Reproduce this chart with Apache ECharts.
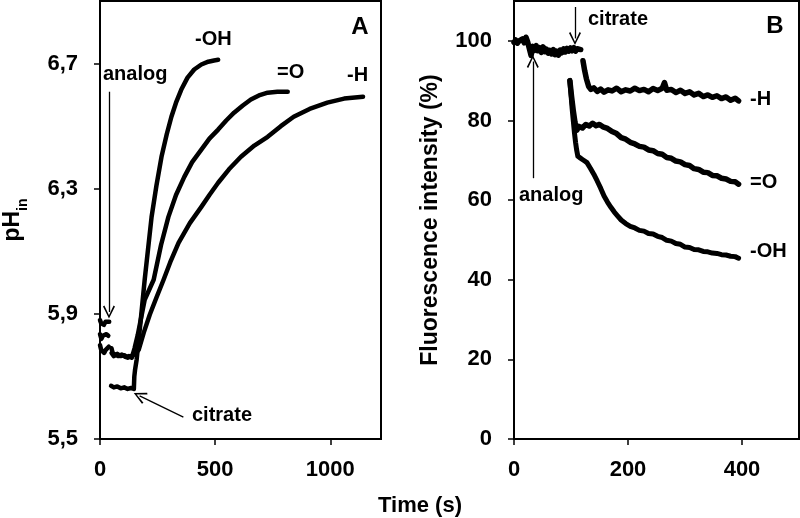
<!DOCTYPE html>
<html><head><meta charset="utf-8">
<script src="https://cdn.jsdelivr.net/npm/echarts@6/dist/echarts.min.js"></script>
<style>html,body{margin:0;padding:0;background:#fff}#c{width:800px;height:518px}</style>
</head><body><div id="c"></div>
<script>
// ---------- Panel A: pH_in vs time (s) ----------
const ticksAx = [0, 500, 1000];
const ticksAy = [5.5, 5.9, 6.3, 6.7];
const aOH = [[0,5.80],[5,5.785],[10,5.79],[18,5.775],[25,5.785],[32,5.79],[38,5.795],[44,'-'],
  [48,5.67],[52,5.675],[60,5.665],[75,5.668],[90,5.662],[105,5.665],[120,5.66],[135,5.663],[147,5.66],
  [149,5.70],[152,5.72],[159,5.753],[177,5.881],[194,6.009],[224,6.21],[245,6.31],[267,6.402],[290,6.475],
  [310,6.53],[330,6.575],[353,6.617],[380,6.655],[409,6.681],[440,6.697],[470,6.706],[495,6.71],[513,6.712]];
const aO = [[0,5.835],[6,5.82],[12,5.83],[20,5.825],[28,5.835],[36,5.83],[42,'-'],
  [50,5.79],[55,5.775],[65,5.77],[80,5.765],[95,5.77],[110,5.762],[125,5.765],[138,5.76],
  [150,5.79],[164,5.833],[194,5.945],[233,6.009],[265,6.12],[297,6.21],[330,6.28],[366,6.338],[400,6.385],
  [440,6.425],[475,6.46],[513,6.489],[548,6.518],[582,6.543],[620,6.566],[655,6.585],[690,6.598],[728,6.607],[770,6.61],[815,6.61]];
const aH = [[0,5.88],[5,5.87],[10,5.875],[17,5.865],[24,5.875],[32,5.87],[40,5.875],[44,'-'],
  [50,5.775],[60,5.765],[75,5.772],[90,5.765],[105,5.768],[120,5.76],[135,5.765],[150,5.77],
  [168,5.785],[190,5.84],[216,5.897],[246,5.954],[276,6.009],[305,6.065],[341,6.127],[390,6.19],[440,6.242],
  [475,6.28],[513,6.319],[560,6.362],[612,6.402],[670,6.438],[728,6.466],[785,6.5],[841,6.53],
  [910,6.555],[987,6.575],[1060,6.588],[1142,6.594]];

// ---------- Panel B: fluorescence (%) vs time (s) ----------
const ticksBx = [0, 200, 400];
const ticksBy = [0, 20, 40, 60, 80, 100];
const bBase = [[0,99.6],[3,100.2],[6,99.4],[9,100.0],[12,99.6],[15,100.5],[18,99.5],[21,100.9],[24,99.7],[27,100.1],
  [30,96.3],[33,98.6],[36,97.6],[39,98.8],[42,97.5],[45,98.3],[48,97.1],[51,98.5],[54,97.3],[57,97.9],
  [60,96.9],[63,97.6],[66,96.7],[69,97.8],[72,96.5],[75,97.4],[78,96.4],[81,97.7],[84,97.0],[87,98.0],
  [90,97.2],[93,98.1],[96,97.4],[99,98.2],[102,97.5],[105,98.3],[108,97.4],[111,98.0],[114,97.6],[117,97.8]];
const bH = [[121,95],[124,92.5],[127,90.5],[131,88.5],[135,87.8],[140,88.2],[146,87.3],[152,87.9],[158,87.1],
  [165,87.7],[172,87.4],[180,88.1],[188,87.2],[196,87.7],[204,87.4],[212,88.1],[220,87.5],[228,87.8],
  [236,87.2],[244,88.0],[252,87.5],[260,88.1],[264,89.5],[268,87.6],[276,87.8],[284,87.0],[292,87.6],
  [300,86.8],[308,87.2],[316,86.4],[324,86.8],[332,86.0],[340,86.4],[348,85.8],[356,86.2],[364,85.5],
  [372,85.9],[380,85.1],[388,85.6],[394,84.9]];
const bO = [[98,90],[101,86],[104,82.5],[107,79.5],[110,77.5],[114,78.5],[120,78.1],[126,79.0],[132,78.6],
  [138,79.3],[144,78.7],[150,79.0],[156,78.4],[164,78.0],[172,77.2],[180,76.7],[188,75.7],[196,75.3],
  [204,74.5],[212,74.1],[220,73.5],[228,73.3],[236,72.6],[244,72.4],[252,71.7],[260,71.5],[268,70.7],
  [276,70.5],[284,69.8],[292,69.6],[300,68.9],[308,68.7],[316,67.9],[324,67.7],[332,67.0],[340,66.9],
  [348,66.2],[356,66.1],[364,65.5],[372,65.3],[380,64.7],[388,64.6],[394,64.0]];
const bOH = [[98,90],[100,86.5],[102,83],[104,80],[106,77],[108,74.5],[110,72.5],[112,71],[116,70.6],
  [120,70.2],[124,69.8],[128,69.4],[134,68],[140,66.5],[146,64.8],[152,63],[158,61],[164,59.5],[170,58.2],
  [176,57],[182,56],[188,55],[196,54.1],[204,53.4],[212,53.0],[220,52.4],[228,52.2],[236,51.6],[244,51.5],
  [252,50.9],[260,50.6],[268,49.9],[276,49.7],[284,49.1],[292,48.9],[300,48.2],[308,48.1],[316,47.6],
  [324,47.5],[332,47.1],[340,47.0],[348,46.7],[356,46.6],[364,46.3],[372,46.2],[380,45.9],[388,45.8],[394,45.4]];

// annotation arrows (data coordinates)
const arrowsA = [ {from:[39,6.61], to:[39,5.906]}, {from:[362,5.570], to:[172,5.638]} ];
const arrowsB = [ {from:[107,108.5], to:[107,100.6]}, {from:[33,65.5], to:[33,94.8]} ];

const FONT = '"Liberation Sans", Arial, sans-serif';
const chevron = 'path://M0,0 L6,12 L4.6,13 L0,3.2 L-4.6,13 L-6,12 Z';

function axisCommon(custom, fmt, margin) {
  return {
    axisLine: {show: true, onZero: false, lineStyle: {color: '#000', width: 2}},
    axisTick: {show: true, length: 6, lineStyle: {color: '#000', width: 1.5}, customValues: custom},
    axisLabel: {customValues: custom, color: '#000', fontFamily: FONT, fontWeight: 'bold', fontSize: 22,
                margin: margin, formatter: fmt},
    splitLine: {show: false}
  };
}
function lineSeries(xi, yi, data, w) {
  return {type: 'line', xAxisIndex: xi, yAxisIndex: yi, data: data, showSymbol: false, symbol: 'none',
    connectNulls: false, animation: false, silent: true,
    lineStyle: {color: '#000', width: w || 4.5, join: 'round', cap: 'round'}};
}
function arrowSeries(xi, yi, arrows) {
  return {type: 'line', xAxisIndex: xi, yAxisIndex: yi, data: [], silent: true, animation: false,
    markLine: {silent: true, animation: false, symbol: ['none', chevron], symbolSize: [12, 13],
      label: {show: false}, lineStyle: {color: '#000', width: 1.3, type: 'solid'},
      emphasis: {disabled: true},
      data: arrows.map(a => [{coord: a.from}, {coord: a.to}])}};
}
const tfont = {fontFamily: FONT, fontWeight: 'bold', fill: '#000'};
function txt(x, y, s, size, align) {
  return {type: 'text', x: x, y: y, silent: true,
    style: Object.assign({text: s, fontSize: size || 20, textAlign: align || 'left', textVerticalAlign: 'middle'}, tfont)};
}

const chart = echarts.init(document.getElementById('c'), null, {renderer: 'canvas'});
chart.setOption({
  animation: false,
  grid: [
    {left: 98, right: 419, top: 1, bottom: 79, show: true, borderColor: '#000', borderWidth: 2, backgroundColor: 'transparent'},
    {left: 514, right: 1, top: 1, bottom: 79, show: true, borderColor: '#000', borderWidth: 2, backgroundColor: 'transparent'}
  ],
  xAxis: [
    Object.assign({type: 'value', gridIndex: 0, min: 0, max: 1220}, axisCommon(ticksAx, v => String(v), 20)),
    Object.assign({type: 'value', gridIndex: 1, min: 0, max: 500}, axisCommon(ticksBx, v => String(v), 20))
  ],
  yAxis: [
    Object.assign({type: 'value', gridIndex: 0, min: 5.5, max: 6.9,
      name: '{a|pH}{b|in}', nameLocation: 'middle', nameGap: 76, nameRotate: 90,
      nameTextStyle: {color: '#000', rich: {
        a: {fontFamily: FONT, fontWeight: 'bold', fontSize: 23, color: '#000'},
        b: {fontFamily: FONT, fontWeight: 'bold', fontSize: 14, color: '#000', verticalAlign: 'bottom', padding: [0,0,-6,0]}}}},
      axisCommon(ticksAy, v => v.toFixed(1).replace('.', ','), 22)),
    Object.assign({type: 'value', gridIndex: 1, min: 0, max: 110,
      name: 'Fluorescence intensity (%)', nameLocation: 'middle', nameGap: 72, nameRotate: 90,
      nameTextStyle: {color: '#000', fontFamily: FONT, fontWeight: 'bold', fontSize: 23}},
      axisCommon(ticksBy, v => String(v), 22))
  ],
  series: [
    lineSeries(0, 0, aOH), lineSeries(0, 0, aO), lineSeries(0, 0, aH),
    lineSeries(1, 1, bBase, 5.5), lineSeries(1, 1, bH, 5.5), lineSeries(1, 1, bO, 5.5), lineSeries(1, 1, bOH, 5),
    arrowSeries(0, 0, arrowsA), arrowSeries(1, 1, arrowsB)
  ],
  graphic: [
    txt(420, 506, 'Time (s)', 22, 'center'),
    txt(360, 27, 'A', 24, 'center'),
    txt(775, 26, 'B', 24, 'center'),
    txt(195, 39, '-OH', 20), txt(277, 72, '=O', 20), txt(347, 75, '-H', 20),
    txt(103, 74, 'analog', 20), txt(192, 415, 'citrate', 20),
    txt(588, 19, 'citrate', 20), txt(519, 195, 'analog', 20),
    txt(750, 99, '-H', 20), txt(750, 182, '=O', 20), txt(750, 251, '-OH', 20)
  ]
});
</script></body></html>
